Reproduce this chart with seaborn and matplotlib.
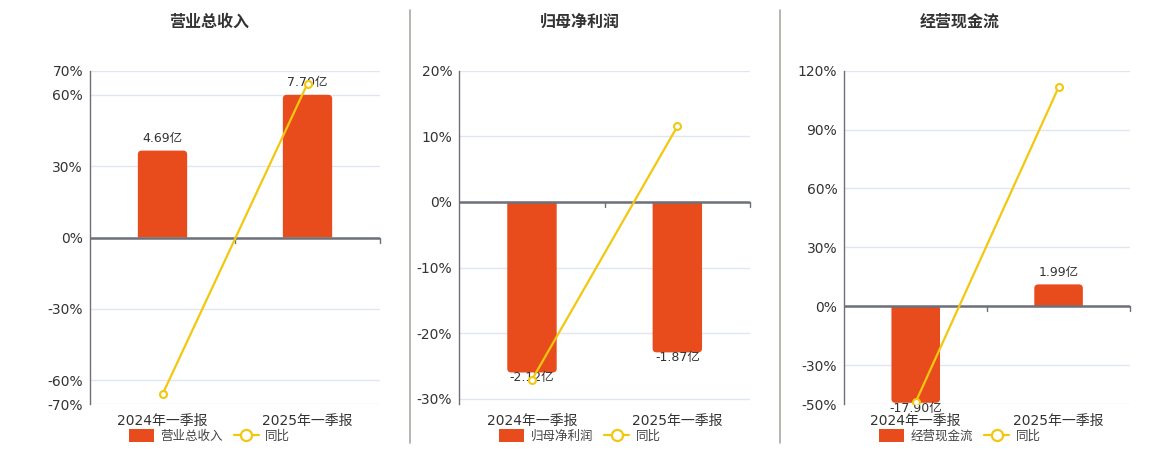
import matplotlib
matplotlib.use("Agg")
import matplotlib.pyplot as plt
from matplotlib.lines import Line2D
from matplotlib.patches import Patch, PathPatch
from matplotlib.path import Path
import seaborn as sns
import pandas as pd

sns.set_theme(style="white")
plt.rcParams['font.family'] = ['DejaVu Sans', 'Noto Sans CJK SC']
plt.rcParams['axes.unicode_minus'] = False

# ---- data ----
categories = ["2024年一季报", "2025年一季报"]
titles = ["营业总收入", "归母净利润", "经营现金流"]
revenue = [4.69, 7.70]            # 亿
revenue_yoy = [-65.8, 64.6]       # %
profit = [-2.12, -1.87]
profit_yoy = [-27.1, 11.5]
cashflow = [-17.90, 1.99]
cashflow_yoy = [-48.8, 111.5]
bar_labels = [["4.69亿", "7.70亿"], ["-2.12亿", "-1.87亿"], ["-17.90亿", "1.99亿"]]
pct_ticks = [[-70, -60, -30, 0, 30, 60, 70],
             [-30, -20, -10, 0, 10, 20],
             [-50, -30, 0, 30, 60, 90, 120]]
pct_limits = [(-70, 70), (-30.85, 20), (-50, 120)]
bar_scale = [9 / 70, 2.12 / 26.0, 1.99 / 11.1]   # bar units per percent point

values = [revenue, profit, cashflow]
yoys = [revenue_yoy, profit_yoy, cashflow_yoy]

BAR = "#E84B1C"
LINE = "#F2C80F"
TXT = "#333333"
AXC = "#6E7079"
GRID = "#E0E6F1"

W, H = 1160, 450
fig = plt.figure(figsize=(W / 100, H / 100), dpi=100)

axes_px = [(90, 380), (459.3, 750), (844.3, 1130)]
top_px, bot_px = 70.7, 404.3
centers_px = [209.5, 580, 960]


def rounded_bar(x0, w, y0, y1, rx, ry):
    """Path of a bar from y0 (base) to y1 (end) with rounded corners at the end."""
    s = 1 if y1 >= y0 else -1
    ry = min(ry, abs(y1 - y0) / 2)
    rx = min(rx, w / 2)
    x1 = x0 + w
    verts = [(x0, y0), (x0, y1 - s * ry), (x0, y1), (x0 + rx, y1),
             (x1 - rx, y1), (x1, y1), (x1, y1 - s * ry), (x1, y0), (x0, y0)]
    codes = [Path.MOVETO, Path.LINETO, Path.CURVE3, Path.CURVE3,
             Path.LINETO, Path.CURVE3, Path.CURVE3, Path.LINETO, Path.CLOSEPOLY]
    return Path(verts, codes)


for i in range(3):
    l, r = axes_px[i]
    ax_w, ax_h = r - l, bot_px - top_px
    ax = fig.add_axes([l / W, 1 - bot_px / H, ax_w / W, ax_h / H])
    lo, hi = pct_limits[i]
    f = bar_scale[i]
    df = pd.DataFrame({"cat": categories, "val": values[i], "yoy": yoys[i]})

    sns.barplot(data=df, x="cat", y="val", ax=ax, color=BAR, width=0.34,
                saturation=1, edgecolor="none", zorder=2)
    ax.set_ylim(lo * f, hi * f)
    ax.set_xlim(-0.5, 1.5)
    ax.set_yticks([])
    ax.set_xlabel("")
    ax.set_ylabel("")

    # rounded ends (4 px radius), bar end kept inside the plot area
    rx = 4 * 2.0 / ax_w
    ry = 4 * (hi - lo) * f / ax_h
    for p in list(ax.patches):
        x0, w = p.get_x(), p.get_width()
        y_end = p.get_y() + p.get_height()
        y_end = min(max(y_end, lo * f + 1.5 * ry / 4), hi * f)
        pp = PathPatch(rounded_bar(x0, w, 0, y_end, rx, ry), facecolor=BAR,
                       edgecolor="none", zorder=2)
        p.remove()
        ax.add_patch(pp)

    # bar labels
    for j, v in enumerate(values[i]):
        if v >= 0:
            ax.annotate(bar_labels[i][j], (j, v), xytext=(0, 4), textcoords="offset points",
                        ha="center", va="bottom", fontsize=9, color=TXT, zorder=5,
                        annotation_clip=False)
        else:
            yv = max(v, lo * f * 0.99)
            ax.annotate(bar_labels[i][j], (j, yv), xytext=(0, 1), textcoords="offset points",
                        ha="center", va="top", fontsize=9, color=TXT, zorder=5,
                        annotation_clip=False)

    ax.tick_params(axis="x", length=0, pad=7, labelsize=10, labelcolor=TXT)

    # gridlines (behind bars)
    for t in pct_ticks[i]:
        ax.axhline(t * f, color=GRID, linewidth=1, zorder=0)

    # line axis
    ax2 = ax.twinx()
    ax2.set_ylim(lo, hi)
    ax2.yaxis.tick_left()
    ax2.set_yticks(pct_ticks[i])
    ax2.set_yticklabels([f"{t}%" for t in pct_ticks[i]])
    ax2.tick_params(axis="y", length=0, pad=5, labelsize=10, labelcolor=TXT)
    sns.lineplot(data=df, x="cat", y="yoy", ax=ax2, color=LINE, linewidth=1.6,
                 marker="o", markersize=5, markerfacecolor="white",
                 markeredgecolor=LINE, markeredgewidth=1.5, zorder=4)
    ax2.set_ylabel("")
    ax2.set_xlabel("")
    ax2.set_xlim(-0.5, 1.5)
    ax2.grid(False)

    for a in (ax, ax2):
        for s in a.spines.values():
            s.set_visible(False)
    ax2.spines["left"].set_visible(True)
    ax2.spines["left"].set_color(AXC)
    ax2.spines["left"].set_linewidth(1)

    # zero axis line and band ticks
    ax2.axhline(0, color=AXC, linewidth=1.8, zorder=3)
    for xb in (0.5, 1.5):
        ax2.plot([xb, xb], [0, -(hi - lo) * 0.015], color=AXC, linewidth=1, zorder=3,
                 clip_on=False)

    # title
    fig.text(centers_px[i] / W, 1 - 22 / H, titles[i], ha="center", va="center",
             fontsize=11.5, fontweight="bold", color=TXT)

    # legend
    handles = [Patch(facecolor=BAR, edgecolor="none"),
               Line2D([0], [0], color=LINE, linewidth=1.6, marker="o", markersize=8,
                      markerfacecolor="white", markeredgecolor=LINE, markeredgewidth=1.6)]
    fig.legend(handles, [titles[i], "同比"], loc="center",
               bbox_to_anchor=(centers_px[i] / W, 1 - 436 / H), ncol=2, frameon=False,
               fontsize=9, handlelength=2.0, handleheight=1.2, columnspacing=0.9,
               handletextpad=0.5, labelcolor="#444444")

# separators
for xs in (410, 780):
    fig.add_artist(Line2D([xs / W, xs / W], [1 - 10 / H, 1 - 443 / H],
                          color="#A9A9A2", linewidth=1.2))

fig.savefig("out.png", dpi=100, facecolor="white")
